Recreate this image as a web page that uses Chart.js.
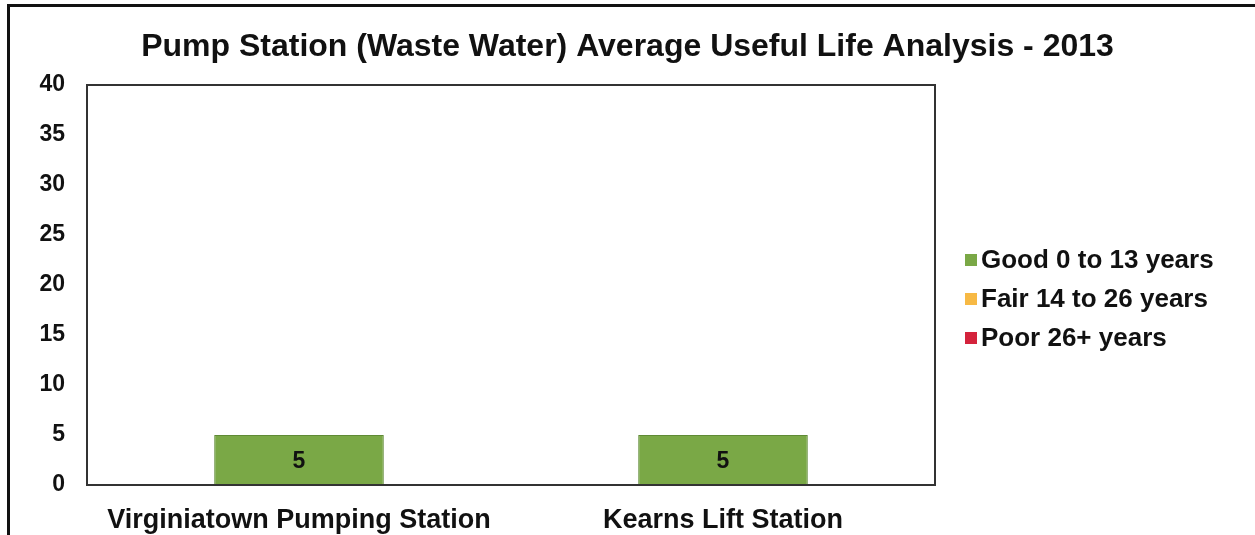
<!DOCTYPE html>
<html>
<head>
<meta charset="utf-8">
<script src="https://cdn.jsdelivr.net/npm/chart.js@4"></script>
<style>
  html, body { margin: 0; padding: 0; background: #fff; }
  #wrap { position: relative; width: 1255px; height: 535px; overflow: hidden; }
  #frame { position: absolute; left: 7px; top: 4px; width: 1300px; height: 600px;
           border-left: 3px solid #111; border-top: 3px solid #111; }
  canvas { position: absolute; left: 0; top: 0; }
</style>
</head>
<body>
<div id="wrap">
  <div id="frame"></div>
  <canvas id="chart" width="1255" height="535"></canvas>
</div>
<script>
// stations and their average useful life bucket
const stations = ['Virginiatown Pumping Station', 'Kearns Lift Station'];
const good = [5, 5];
const fair = [0, 0];
const poor = [0, 0];
const yTicks = [0, 5, 10, 15, 20, 25, 30, 35, 40];

const FONT = 'Arial, "Liberation Sans", sans-serif';

// writes the value in the middle of each non-empty bar
const barLabels = {
  id: 'barLabels',
  afterDatasetsDraw(chart) {
    const ctx = chart.ctx;
    ctx.save();
    ctx.font = 'bold 23px ' + FONT;
    ctx.fillStyle = '#111';
    ctx.textAlign = 'center';
    ctx.textBaseline = 'middle';
    chart.data.datasets.forEach((ds, i) => {
      chart.getDatasetMeta(i).data.forEach((bar, j) => {
        if (!ds.data[j]) return;
        const y = (bar.y + bar.base) / 2;
        ctx.fillText(ds.data[j], bar.x, y + 2);
      });
    });
    ctx.restore();
  }
};

// box around the plot area
const plotBox = {
  id: 'plotBox',
  afterDraw(chart) {
    const a = chart.chartArea;
    const ctx = chart.ctx;
    ctx.save();
    ctx.strokeStyle = '#333';
    ctx.lineWidth = 2;
    ctx.strokeRect(a.left, a.top, a.right - a.left, a.bottom - a.top);
    ctx.restore();
  }
};

// legend as a layout box on the right, so the title stays centred on the canvas
const sideLegend = {
  id: 'sideLegend',
  beforeInit(chart) {
    const box = {
      position: 'right',
      weight: 0,
      fullSize: false,
      options: {},
      width: 320,
      height: 0,
      isHorizontal() { return false; },
      update(maxWidth, maxHeight) { this.width = 320; this.height = maxHeight; },
      draw(area) {
        const ctx = chart.ctx;
        const x = this.left + 30;
        let y = (area.top + area.bottom) / 2 - 25;
        ctx.save();
        ctx.font = 'bold 26px ' + FONT;
        ctx.textBaseline = 'middle';
        chart.data.datasets.forEach(ds => {
          ctx.fillStyle = ds.backgroundColor;
          ctx.fillRect(x, y - 6, 12, 12);
          ctx.fillStyle = '#111';
          ctx.fillText(ds.label, x + 16, y + 1);
          y += 39;
        });
        ctx.restore();
      }
    };
    Chart.layouts.addBox(chart, box);
  }
};

const ctx = document.getElementById('chart').getContext('2d');
new Chart(ctx, {
  type: 'bar',
  data: {
    labels: stations,
    datasets: [
      { label: 'Good 0 to 13 years', data: good, backgroundColor: '#7aa846', borderColor: '#5f8a35', borderWidth: 1 },
      { label: 'Fair 14 to 26 years', data: fair, backgroundColor: '#f7b944' },
      { label: 'Poor 26+ years', data: poor, backgroundColor: '#d4233c' }
    ]
  },
  options: {
    responsive: false,
    animation: false,
    categoryPercentage: 0.4,
    barPercentage: 1,
    layout: { padding: 0 },
    plugins: {
      title: {
        display: true,
        text: 'Pump Station (Waste Water) Average Useful Life Analysis - 2013',
        color: '#111',
        font: { family: FONT, size: 32, weight: 'bold' },
        padding: { top: 28, bottom: 18.6 }
      },
      legend: { display: false },
      tooltip: { enabled: false }
    },
    scales: {
      x: {
        stacked: true,
        grid: { display: false },
        border: { display: false },
        afterFit(axis) { axis.height = 50; },
        ticks: {
          color: '#111',
          padding: 11,
          font: { family: FONT, size: 27, weight: 'bold' }
        }
      },
      y: {
        stacked: true,
        min: 0,
        max: 40,
        afterBuildTicks(axis) { axis.ticks = yTicks.map(v => ({ value: v })); },
        afterFit(axis) { axis.width = 87; },
        grid: { display: false },
        border: { display: false },
        ticks: {
          color: '#111',
          padding: 14,
          font: { family: FONT, size: 23, weight: 'bold' }
        }
      }
    }
  },
  plugins: [sideLegend, barLabels, plotBox]
});
</script>
</body>
</html>
